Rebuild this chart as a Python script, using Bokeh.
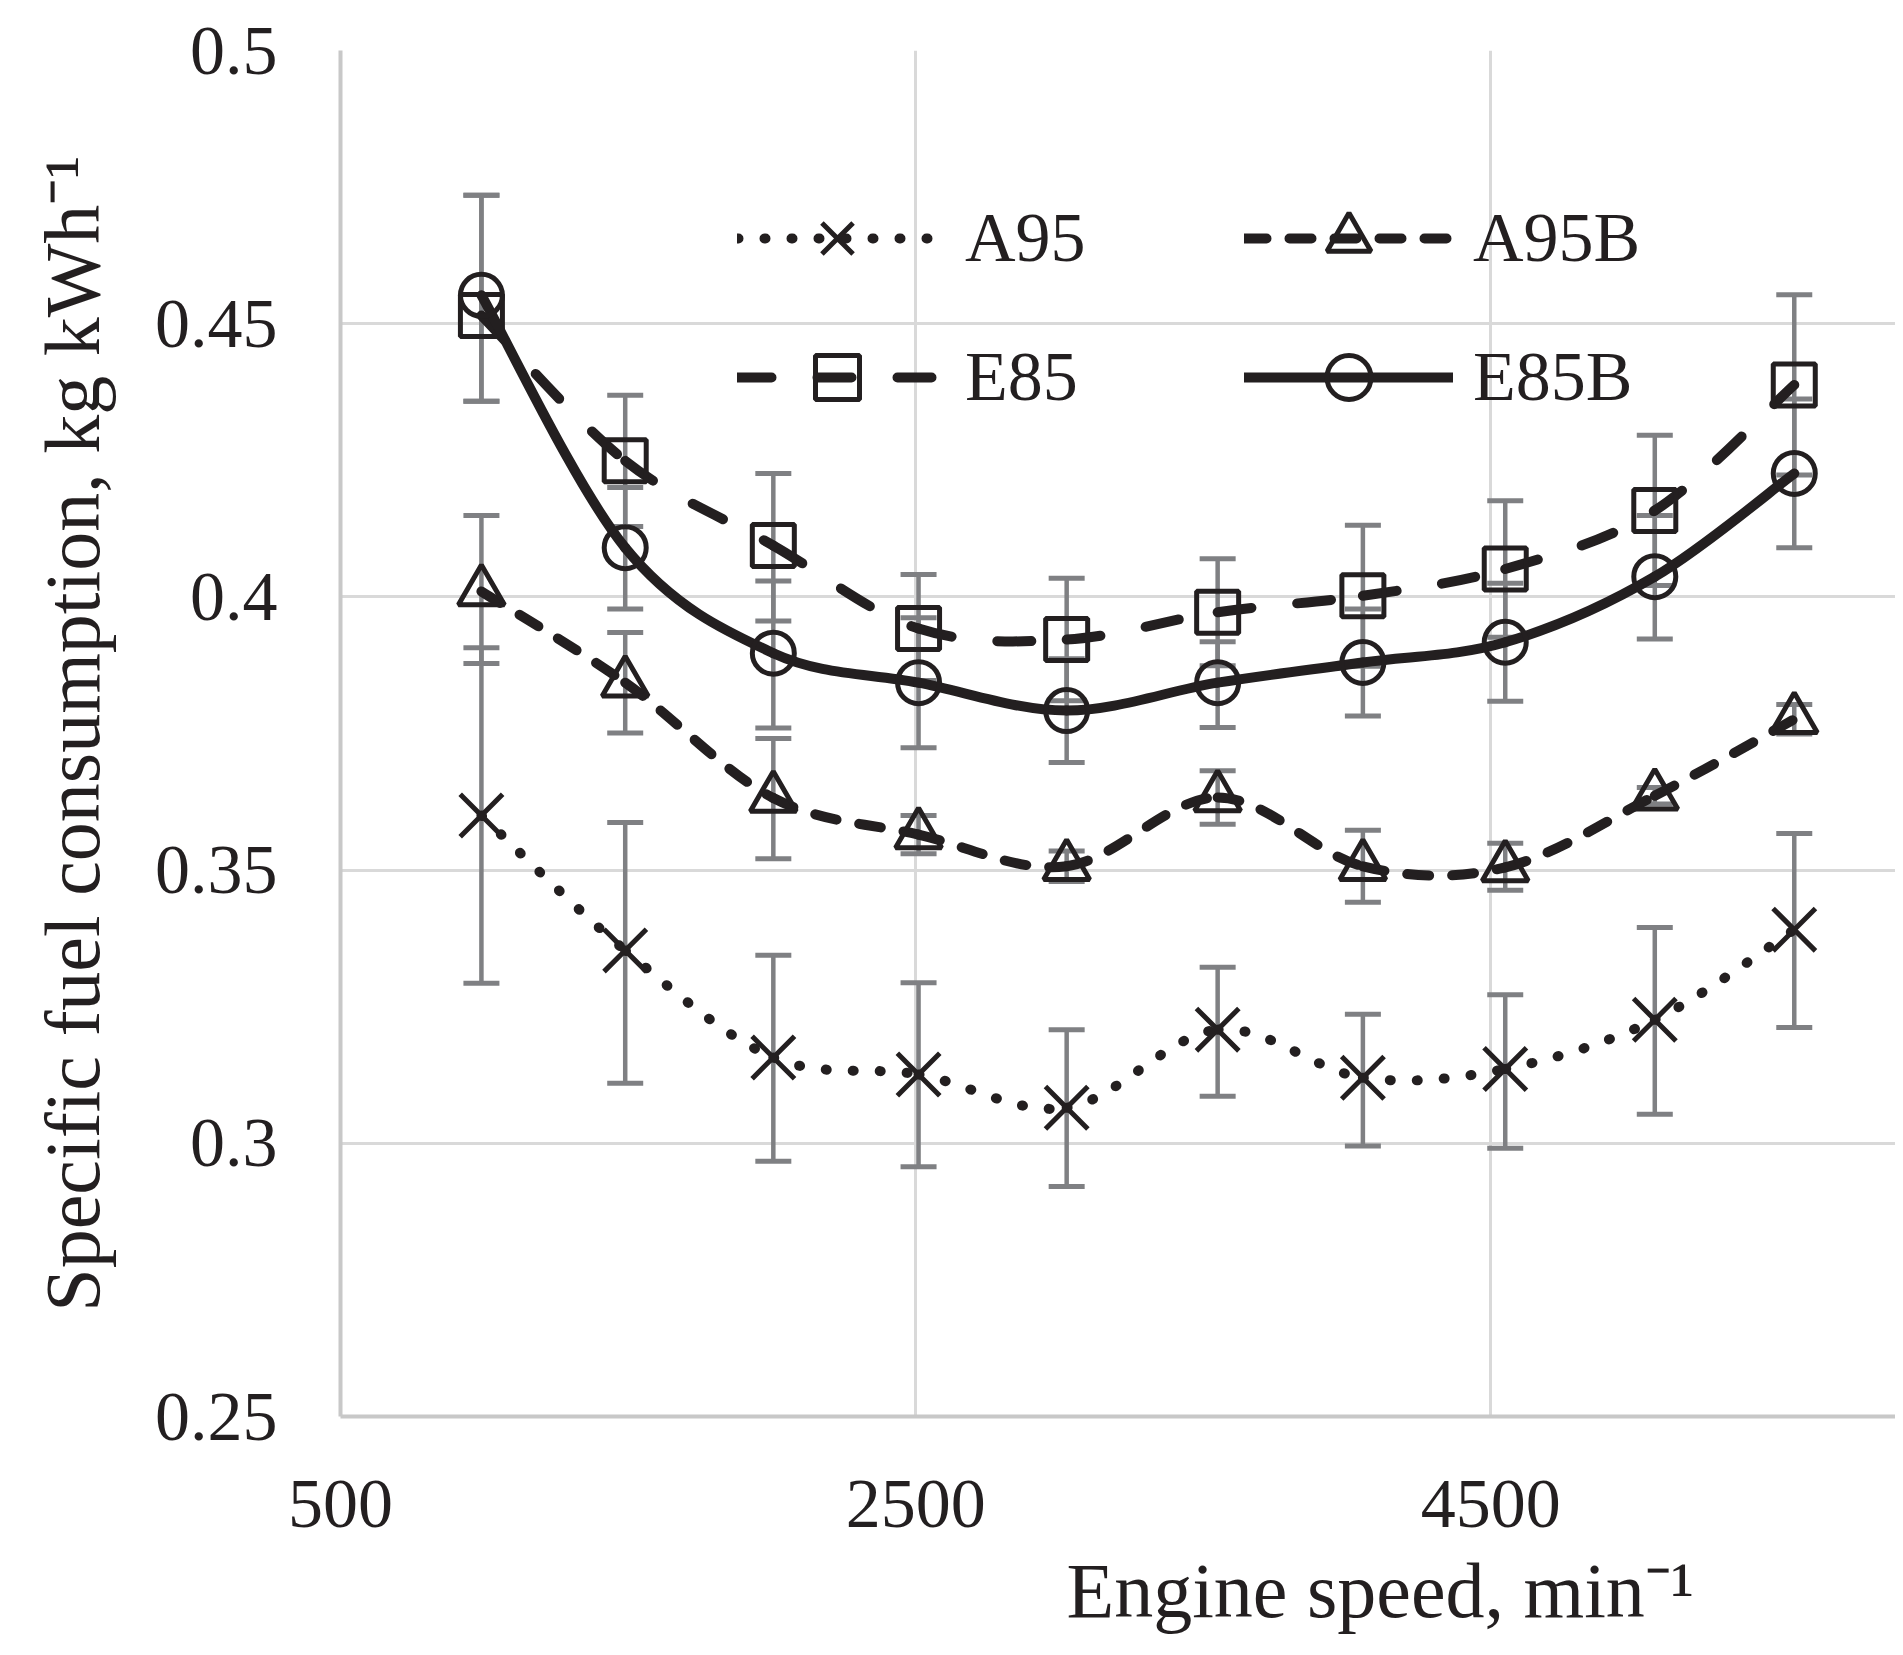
from bokeh.plotting import figure
from bokeh.models import (ColumnDataSource, Whisker, TeeHead, FixedTicker,
                          CustomJSTickFormatter, Legend, LegendItem, Title, Range1d)
from bokeh.embed import file_html
from bokeh.resources import INLINE

# ---------------- data ----------------
speed = [990, 1490, 2005, 2510, 3025, 3550, 4055, 4550, 5070, 5555]

a95 = [0.3600, 0.3353, 0.3157, 0.3126, 0.3065, 0.3208, 0.3120, 0.3136, 0.3226, 0.3391]
a95_hi = [0.3907, 0.3587, 0.3344, 0.3294, 0.3208, 0.3322, 0.3236, 0.3272, 0.3395, 0.3567]
a95_lo = [0.3293, 0.3110, 0.2967, 0.2957, 0.2921, 0.3086, 0.2995, 0.2991, 0.3053, 0.3212]

a95b = [0.4010, 0.3843, 0.3632, 0.3565, 0.3507, 0.3633, 0.3507, 0.3505, 0.3636, 0.3776]
a95b_hi = [0.4149, 0.3935, 0.3741, 0.3600, 0.3535, 0.3682, 0.3573, 0.3549, 0.3651, 0.3803]
a95b_lo = [0.3878, 0.3751, 0.3521, 0.3530, 0.3479, 0.3584, 0.3441, 0.3463, 0.3621, 0.3749]

e85 = [0.4515, 0.4249, 0.4094, 0.3942, 0.3922, 0.3972, 0.4002, 0.4051, 0.4158, 0.4388]
e85_hi = [0.4735, 0.4369, 0.4226, 0.4041, 0.4034, 0.4070, 0.4131, 0.4176, 0.4296, 0.4553]
e85_lo = [0.4358, 0.4129, 0.3956, 0.3847, 0.3810, 0.3874, 0.3873, 0.3926, 0.4021, 0.4223]

e85b = [0.4552, 0.4090, 0.3897, 0.3843, 0.3792, 0.3843, 0.3880, 0.3917, 0.4037, 0.4226]
e85b_hi = [0.4735, 0.4200, 0.4029, 0.3962, 0.3887, 0.3918, 0.3978, 0.4025, 0.4149, 0.4362]
e85b_lo = [0.4358, 0.3978, 0.3760, 0.3724, 0.3697, 0.3761, 0.3782, 0.3809, 0.3923, 0.4090]

x_ticks = [500, 2500, 4500]
y_ticks = [0.25, 0.3, 0.35, 0.4, 0.45, 0.5]

x_title = "Engine speed, min\u207b\u00b9"
y_title = "Specific fuel consumption, kg kWh\u207b\u00b9"

# ---------------- styling ----------------
INK = "#231f20"
ERR = "#7f8083"
GRID = "#d9d9d9"
AXIS = "#c8c8c8"
FONT = "Liberation Serif"

p = figure(width=1895, height=1655,
           x_range=Range1d(500, 5907), y_range=Range1d(0.25, 0.5),
           output_backend="svg", toolbar_location=None,
           min_border_left=340, min_border_right=0,
           min_border_top=50, min_border_bottom=239)
p.outline_line_color = None
p.background_fill_color = "white"

p.xaxis.ticker = FixedTicker(ticks=x_ticks)
p.yaxis.ticker = FixedTicker(ticks=y_ticks)
p.yaxis.formatter = CustomJSTickFormatter(code="return tick.toFixed(2).replace(/0$/, '');")
p.xaxis.formatter = CustomJSTickFormatter(code="return tick.toFixed(0);")

for ax in (p.xaxis, p.yaxis):
    ax.axis_line_color = AXIS
    ax.axis_line_width = 4
    ax.major_tick_line_color = None
    ax.minor_tick_line_color = None
    ax.major_tick_out = 0
    ax.major_tick_in = 0
    ax.major_label_text_font = FONT
    ax.major_label_text_font_size = "70px"
    ax.major_label_text_color = INK
p.yaxis.major_label_standoff = 63
p.xaxis.major_label_standoff = 64

p.yaxis.axis_label = y_title
p.yaxis.axis_label_text_font = FONT
p.yaxis.axis_label_text_font_size = "78px"
p.yaxis.axis_label_text_font_style = "normal"
p.yaxis.axis_label_text_color = INK
p.yaxis.axis_label_standoff = 36

p.grid.grid_line_color = GRID
p.grid.grid_line_width = 3


def smooth(xs, ys):
    """Bezier control points (Excel-like smoothed line) through the data points."""
    n = len(xs)
    d = dict(x0=[], y0=[], x1=[], y1=[], cx0=[], cy0=[], cx1=[], cy1=[])
    for i in range(n - 1):
        a = i - 1 if i > 0 else i
        b = i + 2 if i + 2 < n else i + 1
        d["x0"].append(xs[i]); d["y0"].append(ys[i])
        d["x1"].append(xs[i + 1]); d["y1"].append(ys[i + 1])
        d["cx0"].append(xs[i] + (xs[i + 1] - xs[a]) / 6.0)
        d["cy0"].append(ys[i] + (ys[i + 1] - ys[a]) / 6.0)
        d["cx1"].append(xs[i + 1] - (xs[b] - xs[i]) / 6.0)
        d["cy1"].append(ys[i + 1] - (ys[b] - ys[i]) / 6.0)
    return ColumnDataSource(d)


series = [
    # name, values, hi, lo, dash, line width, marker, marker size
    ("A95", a95, a95_hi, a95_lo, "1 26", 10, "x", 60),
    ("A95B", a95b, a95b_hi, a95b_lo, "22 23", 10, "triangle", 46),
    ("E85", e85, e85_hi, e85_lo, "34 46", 10, "square", 42),
    ("E85B", e85b, e85b_hi, e85b_lo, "solid", 10, "circle", 42),
]

# error bars first (below the lines)
for name, vals, hi, lo, dash, lw, mk, ms in series:
    src = ColumnDataSource(dict(x=speed, hi=hi, lo=lo))
    w = Whisker(base="x", upper="hi", lower="lo", source=src, dimension="height",
                line_color=ERR, line_width=4.5,
                upper_head=TeeHead(size=36, line_color=ERR, line_width=5),
                lower_head=TeeHead(size=36, line_color=ERR, line_width=5))
    w.level = "underlay"
    p.add_layout(w)

nan = float("nan")
legend_items = {}
for name, vals, hi, lo, dash, lw, mk, ms in series:
    bsrc = smooth(speed, vals)
    p.bezier(x0="x0", y0="y0", x1="x1", y1="y1", cx0="cx0", cy0="cy0",
             cx1="cx1", cy1="cy1", source=bsrc, line_color=INK, line_width=lw,
             line_dash=dash, line_cap="round")
    # style swatch for the legend only (a single undefined point draws nothing)
    swatch = p.line(x=[nan], y=[nan], line_color=INK, line_width=lw,
                    line_dash=dash, line_cap="round")
    sc = p.scatter(x=speed, y=vals, marker=mk, size=ms, line_color=INK,
                   line_width=5, fill_alpha=0)
    legend_items[name] = LegendItem(label=name, renderers=[swatch, sc])


def make_legend(items, loc, gw, standoff):
    return Legend(items=items, location=loc, orientation="vertical",
                  glyph_width=gw, glyph_height=110, label_height=110,
                  label_standoff=standoff, spacing=29, padding=0, margin=0,
                  border_line_color=None, background_fill_alpha=0,
                  label_text_font=FONT, label_text_font_size="70px",
                  label_text_color=INK)


p.add_layout(make_legend([legend_items["A95"], legend_items["E85"]], (397, 984), 200, 28))
p.add_layout(make_legend([legend_items["A95B"], legend_items["E85B"]], (904, 984), 209, 20))

p.add_layout(Title(text=x_title, align="left", offset=726, standoff=30,
                   text_font=FONT, text_font_size="78px", text_font_style="normal",
                   text_color=INK), "below")

open("out.html", "w").write(file_html(p, INLINE))
